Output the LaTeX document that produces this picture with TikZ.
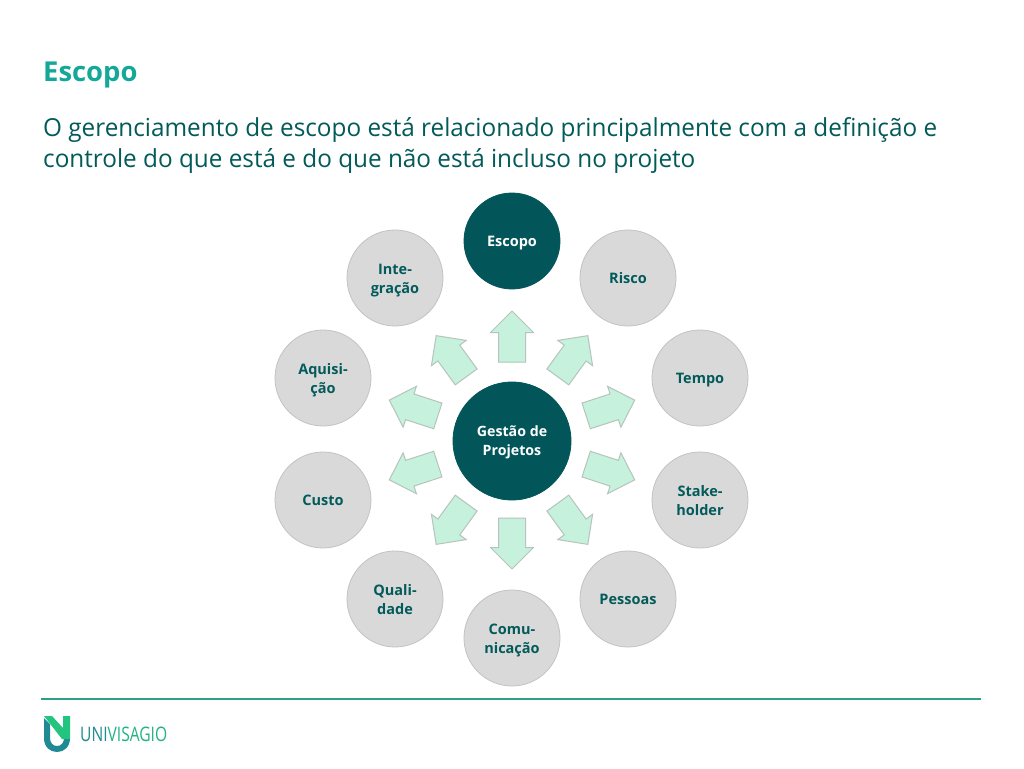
\documentclass[tikz,border=0pt]{standalone}
\usepackage{fontspec}
\setmainfont{Open Sans}
\usetikzlibrary{shapes.arrows}
\definecolor{titlecol}{HTML}{14A898}
\definecolor{bodycol}{HTML}{035A5A}
\definecolor{darkc}{HTML}{02565A}
\definecolor{greyc}{HTML}{D9D9D9}
\definecolor{greyb}{HTML}{BFC4C2}
\definecolor{arrowf}{HTML}{C6F1DC}
\definecolor{arrowb}{HTML}{B5C4BC}
\definecolor{linec}{HTML}{2E9E84}
\definecolor{logog}{HTML}{22C47E}
\definecolor{logot}{HTML}{1F8A94}
\tikzset{
  outer/.style={circle,draw=greyb,fill=greyc,line width=0.8pt,minimum size=96pt,inner sep=0pt,align=center,text=bodycol,font=\fontsize{14.5}{19}\selectfont\bfseries,text height=10pt,text depth=0pt},
  twolines/.style={text height=30pt,text depth=0pt},
  hub/.style={outer,draw=darkc,fill=darkc,text=white},
  blockarrow/.style={single arrow,draw=arrowb,fill=arrowf,line width=1pt,text width=0pt,text height=26pt,text depth=0pt,minimum height=51pt,single arrow head extend=8pt,inner sep=0pt,outer sep=0pt,anchor=tail}
}
\begin{document}
\begin{tikzpicture}[x=1pt,y=-1pt]
\useasboundingbox (0,0) rectangle (1024,768);
\fill[white] (0,0) rectangle (1024,768);
\node[anchor=base west,inner sep=0pt,text=titlecol,font=\fontsize{27.4}{32}\selectfont\bfseries] (title) at (43,81.5) {Escopo};
\node[anchor=base west,inner sep=0pt,text=bodycol,xscale=0.98,font=\fontsize{24.8}{32}\selectfont] (l1) at (43,136) {O gerenciamento de escopo está relacionado principalmente com a definição e};
\node[anchor=base west,inner sep=0pt,text=bodycol,xscale=0.98,font=\fontsize{24.8}{32}\selectfont] (l2) at (43,167) {controle do que está e do que não está incluso no projeto};
\node[hub,twolines,text height=28pt,minimum size=118pt,font=\fontsize{14.2}{19}\selectfont\bfseries] (center) at (512,441) {Gestão de\\Projetos};
\node[hub] (c0) at (512,241) {Escopo};
\node[outer] (c1) at (628,278) {Risco};
\node[outer] (c2) at (700,378) {Tempo};
\node[outer,twolines] (c3) at (700,500) {Stake-\\holder};
\node[outer] (c4) at (628,599) {Pessoas};
\node[outer,twolines] (c5) at (512,638) {Comu-\\nicação};
\node[outer,twolines] (c6) at (395,599) {Quali-\\dade};
\node[outer] (c7) at (323,500) {Custo};
\node[outer,twolines] (c8) at (323,378) {Aquisi-\\ção};
\node[outer,twolines] (c9) at (395,278) {Inte-\\gração};
\foreach \i in {0,...,9}{
  \pgfmathsetmacro{\a}{36*\i}
  \node[blockarrow,rotate=90-\a] (a\i) at ({512+78*sin(\a)},{440-78*cos(\a)}) {};
}
\draw[linec,line width=1.5pt] (41,699) coordinate (la) -- (981,699) coordinate (lb);
% logo
\fill[logot] (44,718) -- (44,738) .. controls (44,747) and (50,752) .. (57,752) .. controls (64,752) and (70,747) .. (70,738) -- (64,738) .. controls (64,743) and (61,746) .. (57,746) .. controls (53,746) and (50,743) .. (50,738) -- (50,724) -- cycle;
\fill[logog] (44,716) -- (52,716) -- (63,728) -- (63,716) -- (70,716) -- (70,739) -- (62,739) -- cycle;
\node[anchor=base west,inner sep=0pt,text=logot,xscale=0.78,font=\fontsize{20}{24}\selectfont] (logo) at (80,741) {UNI\textcolor{logog!70!logot}{VISAGIO}};
\end{tikzpicture}
\end{document}
